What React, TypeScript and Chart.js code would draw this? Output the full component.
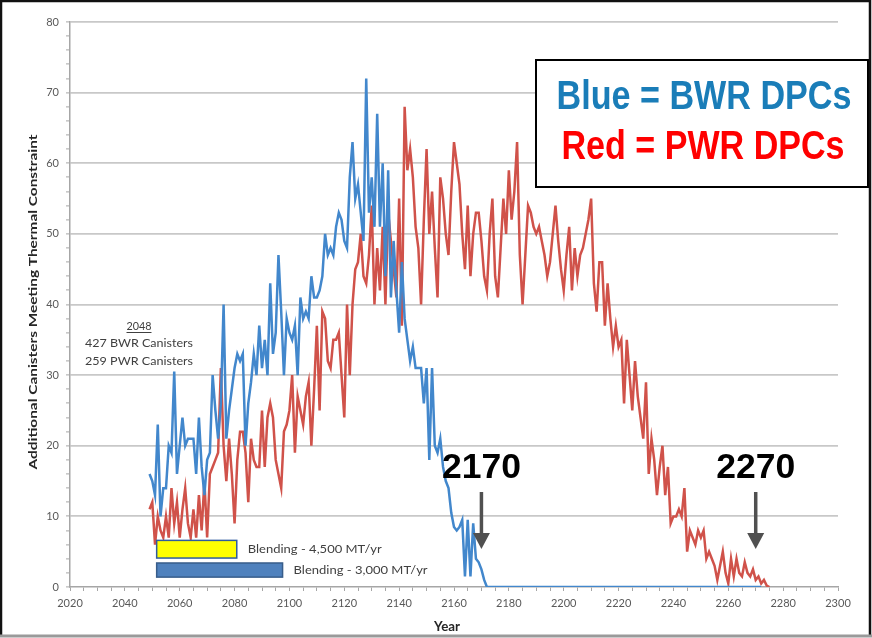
import React, { useEffect, useRef } from 'react';
import { Chart, registerables } from 'chart.js';

Chart.register(...registerables);

// ---------- DATA ----------
const START_YEAR = 2049;

// BWR DPCs (blue), one value per year from 2049
const bwrValues = [
  16,
  15, 13, 23, 10, 14, 14, 20, 19, 30.5, 16,
  20, 24, 20, 21, 21, 21, 16, 24, 17, 13,
  18, 19, 30, 25, 21, 26, 40, 21, 25, 28,
  31, 33, 32, 33, 20, 26, 29, 33, 30, 37,
  31, 35, 30, 43, 33, 36, 47, 39, 30, 38,
  36, 35, 37, 30, 41, 38, 39, 38, 44, 41,
  41, 42, 44, 50, 47, 48, 47, 51, 53, 52,
  49, 48, 58, 63, 55, 57, 53, 49, 72, 53,
  58, 51, 67, 51, 60, 44, 59, 41, 49, 42,
  36, 46, 38, 35, 32, 34, 31, 31, 31, 26,
  31, 18, 31, 20, 19, 21, 17, 15, 14, 10.5,
  8.5, 8, 8.5, 9.5, 1.5, 9.5, 1.5, 9, 4, 3.5,
  2.5, 1, 0, 0, 0, 0, 0, 0, 0, 0,
  0, 0, 0, 0, 0, 0, 0, 0, 0, 0,
  0, 0, 0, 0, 0, 0, 0, 0, 0, 0,
  0, 0, 0, 0, 0, 0, 0, 0, 0, 0,
  0, 0, 0, 0, 0, 0, 0, 0, 0, 0,
  0, 0, 0, 0, 0, 0, 0, 0, 0, 0,
  0, 0, 0, 0, 0, 0, 0, 0, 0, 0,
  0, 0, 0, 0, 0, 0, 0, 0, 0, 0,
  0, 0, 0, 0, 0, 0, 0, 0, 0, 0,
  0, 0, 0, 0, 0, 0, 0, 0, 0, 0,
  0, 0, 0,
];

// PWR DPCs (red), one value per year from 2049
const pwrValues = [
  11,
  12, 6, 10, 8, 7, 10, 7, 14, 9, 12,
  7, 11, 14, 9, 7, 11, 7, 13, 8, 15,
  7, 16, 17, 18, 19, 31, 20, 15, 21, 16,
  9, 18, 22, 22, 19, 12, 21, 18, 17, 17,
  25, 17, 24, 26, 24, 18, 16, 14, 22, 23,
  25, 30, 19, 27, 25, 23, 27, 29, 20, 28,
  37, 25, 39, 38, 32, 31, 35, 35, 36, 30,
  24, 40, 30, 40, 45, 46, 50, 44, 43, 47,
  54, 40, 48, 42, 51, 40, 53, 49, 45, 41,
  55, 37, 68, 59, 62, 58, 51, 48, 40, 52,
  62, 50, 56, 48, 41, 58, 55, 50, 47, 56,
  63, 60, 57, 50, 45, 54, 44, 50, 53, 53,
  49, 44, 42, 50, 55, 44, 41, 48, 55, 50,
  59, 52, 56, 63, 47, 40, 47, 54, 53, 51,
  50, 51, 49, 47, 44, 46, 50, 54, 49, 45,
  42, 47, 51, 42, 48, 44, 47, 48, 50, 52,
  55, 43, 39, 46, 46, 37, 43, 38, 34, 37,
  34, 35, 26, 35, 30, 25, 32, 27, 24, 21,
  29, 16, 21, 18, 13, 17, 20, 13, 17, 9,
  10, 10, 11, 10, 14, 5, 8, 7, 6, 8,
  7, 8, 4, 5, 4, 3, 1, 3, 5, 2,
  0.5, 4, 1.5, 4, 2, 1.5, 3.5, 2, 1.5, 2.5,
  1, 1.5, 0.5, 1, 0.2, 0,
];

const xTickLabelEvery = 20;
const yTickLabelEvery = 10;

const legendLines = ['Blue = BWR DPCs', 'Red = PWR DPCs'];
const note2048 = ['2048', '427 BWR Canisters', '259 PWR Canisters'];
const blendingBars = [
  { label: 'Blending - 4,500 MT/yr', from: 2051.6, to: 2080.8, top: 6.6, bottom: 4.1 },
  { label: 'Blending - 3,000 MT/yr', from: 2051.6, to: 2097.5, top: 3.4, bottom: 1.4 },
];
const endYears = [2170, 2270];

// ---------- HELPERS ----------
function fitText(
  ctx: CanvasRenderingContext2D,
  text: string,
  x: number,
  y: number,
  font: string,
  color: string,
  width: number | null,
  align: CanvasTextAlign = 'center',
  baseline: CanvasTextBaseline = 'middle'
) {
  ctx.save();
  ctx.font = font;
  ctx.fillStyle = color;
  ctx.textAlign = align;
  ctx.textBaseline = baseline;
  const w = ctx.measureText(text).width;
  const s = width ? width / w : 1;
  ctx.translate(x, y);
  ctx.scale(s, 1);
  ctx.fillText(text, 0, 0);
  ctx.restore();
}

const decorPlugin = {
  id: 'decor',
  afterDatasetsDraw(chart: any) {
    const ctx: CanvasRenderingContext2D = chart.ctx;
    const xs = chart.scales.x;
    const ys = chart.scales.y;

    // Blending bars
    const fills = ['#ffff00', '#4f81bd'];
    const strokes = ['#2f5c9e', '#385d8a'];
    blendingBars.forEach((b, i) => {
      const x0 = xs.getPixelForValue(b.from);
      const x1 = xs.getPixelForValue(b.to);
      const y0 = ys.getPixelForValue(b.top);
      const y1 = ys.getPixelForValue(b.bottom);
      ctx.save();
      ctx.fillStyle = fills[i];
      ctx.fillRect(x0, y0, x1 - x0, y1 - y0);
      ctx.strokeStyle = strokes[i];
      ctx.lineWidth = 1.5;
      ctx.strokeRect(x0, y0, x1 - x0, y1 - y0);
      ctx.restore();
      fitText(ctx, b.label, x1 + 11, (y0 + y1) / 2, '11px Lato', '#404040', 134, 'left');
    });

    // 2048 note
    const nx = 139;
    fitText(ctx, note2048[0], nx, 326, '11px Lato', '#404040', 25);
    ctx.save();
    ctx.strokeStyle = '#404040';
    ctx.lineWidth = 1;
    ctx.beginPath();
    ctx.moveTo(nx - 12.5, 332.5);
    ctx.lineTo(nx + 12.5, 332.5);
    ctx.stroke();
    ctx.restore();
    fitText(ctx, note2048[1], nx, 343, '11px Lato', '#404040', 108);
    fitText(ctx, note2048[2], nx, 361, '11px Lato', '#404040', 108);

    // End-year annotations with arrows
    endYears.forEach((yr) => {
      const px = xs.getPixelForValue(yr);
      fitText(ctx, String(yr), px, 478, 'bold 35px "Liberation Sans"', '#000000', 79, 'center', 'alphabetic');
      ctx.save();
      ctx.strokeStyle = '#505050';
      ctx.fillStyle = '#505050';
      ctx.lineWidth = 3.5;
      ctx.beginPath();
      ctx.moveTo(px, 492);
      ctx.lineTo(px, 535);
      ctx.stroke();
      ctx.beginPath();
      ctx.moveTo(px - 8.5, 533);
      ctx.lineTo(px + 8.5, 533);
      ctx.lineTo(px, 549);
      ctx.closePath();
      ctx.fill();
      ctx.restore();
    });

    // Legend box
    ctx.save();
    ctx.fillStyle = '#ffffff';
    ctx.fillRect(536, 60, 332, 127);
    ctx.strokeStyle = '#000000';
    ctx.lineWidth = 2;
    ctx.strokeRect(536, 60, 332, 127);
    ctx.restore();
    fitText(ctx, legendLines[0], 704, 109, 'bold 40px "Liberation Sans"', '#1a7db8', 295, 'center', 'alphabetic');
    fitText(ctx, legendLines[1], 703, 159, 'bold 40px "Liberation Sans"', '#ff0000', 283, 'center', 'alphabetic');
  },
  afterDraw(chart: any) {
    const ctx: CanvasRenderingContext2D = chart.ctx;
    // Axis titles
    ctx.save();
    ctx.translate(33, 302);
    ctx.rotate(-Math.PI / 2);
    fitText(ctx, 'Additional Canisters Meeting Thermal Constraint', 0, 0, 'bold 12px Lato', '#262626', 335);
    ctx.restore();
    fitText(ctx, 'Year', 447, 627, 'bold 13px Lato', '#262626', 26);

    // Outer frame
    ctx.save();
    ctx.strokeStyle = '#111111';
    ctx.lineWidth = 2.5;
    ctx.beginPath();
    ctx.moveTo(1, 636);
    ctx.lineTo(1, 1);
    ctx.lineTo(870, 1);
    ctx.lineTo(870, 636);
    ctx.stroke();
    ctx.strokeStyle = '#9a9a9a';
    ctx.lineWidth = 3;
    ctx.beginPath();
    ctx.moveTo(0, 636);
    ctx.lineTo(872, 636);
    ctx.stroke();
    ctx.restore();
  },
};

export default function App() {
  const canvasRef = useRef<HTMLCanvasElement | null>(null);

  useEffect(() => {
    if (!canvasRef.current) return;
    const bwr = bwrValues.map((v, i) => ({ x: START_YEAR + i, y: v }));
    const pwr = pwrValues.map((v, i) => ({ x: START_YEAR + i, y: v }));
    const chart = new Chart(canvasRef.current, {
      type: 'line',
      data: {
        datasets: [
          {
            label: 'BWR DPCs',
            data: bwr,
            borderColor: '#4287cc',
            borderWidth: 2.5,
            pointRadius: 0,
            tension: 0,
            fill: false,
          },
          {
            label: 'PWR DPCs',
            data: pwr,
            borderColor: '#d0524a',
            borderWidth: 2.5,
            pointRadius: 0,
            tension: 0,
            fill: false,
          },
        ],
      },
      options: {
        animation: false,
        responsive: false,
        events: [],
        layout: { padding: { left: 8, top: 22, right: 34, bottom: 4 } },
        plugins: { legend: { display: false }, tooltip: { enabled: false }, title: { display: false } },
        scales: {
          x: {
            type: 'linear',
            min: 2020,
            max: 2300,
            afterFit: (s: any) => {
              s.height = 47;
            },
            ticks: {
              stepSize: 5,
              autoSkip: false,
              maxRotation: 0,
              padding: 6,
              color: '#595959',
              font: { family: 'Lato', size: 11 },
              callback: (v: any) => (Number(v) % xTickLabelEvery === 0 ? String(v) : ''),
            },
            grid: {
              drawOnChartArea: false,
              drawTicks: true,
              tickLength: 4,
              tickColor: '#a6a6a6',
              tickWidth: 1,
            },
            border: { display: true, color: '#a6a6a6', width: 1.5 },
          },
          y: {
            type: 'linear',
            min: 0,
            max: 80,
            afterFit: (s: any) => {
              s.width = 62;
            },
            ticks: {
              stepSize: 2,
              autoSkip: false,
              padding: 7,
              color: '#595959',
              font: { family: 'Lato', size: 11 },
              callback: (v: any) => (Number(v) % yTickLabelEvery === 0 ? String(v) : ''),
            },
            grid: {
              color: (c: any) =>
                c.tick && c.tick.value % yTickLabelEvery === 0 && c.tick.value > 0 ? '#c8c8c8' : 'rgba(0,0,0,0)',
              lineWidth: 1.8,
              drawTicks: true,
              tickLength: 4,
              tickColor: '#a6a6a6',
              tickWidth: 1,
            },
            border: { display: true, color: '#a6a6a6', width: 1.5 },
          },
        },
      },
      plugins: [decorPlugin],
    } as any);
    return () => chart.destroy();
  }, []);

  return (
    <div style={{ position: 'absolute', left: 0, top: 0, width: 872, height: 638, background: '#ffffff' }}>
      <canvas ref={canvasRef} width={872} height={638} style={{ display: 'block' }} />
    </div>
  );
}
